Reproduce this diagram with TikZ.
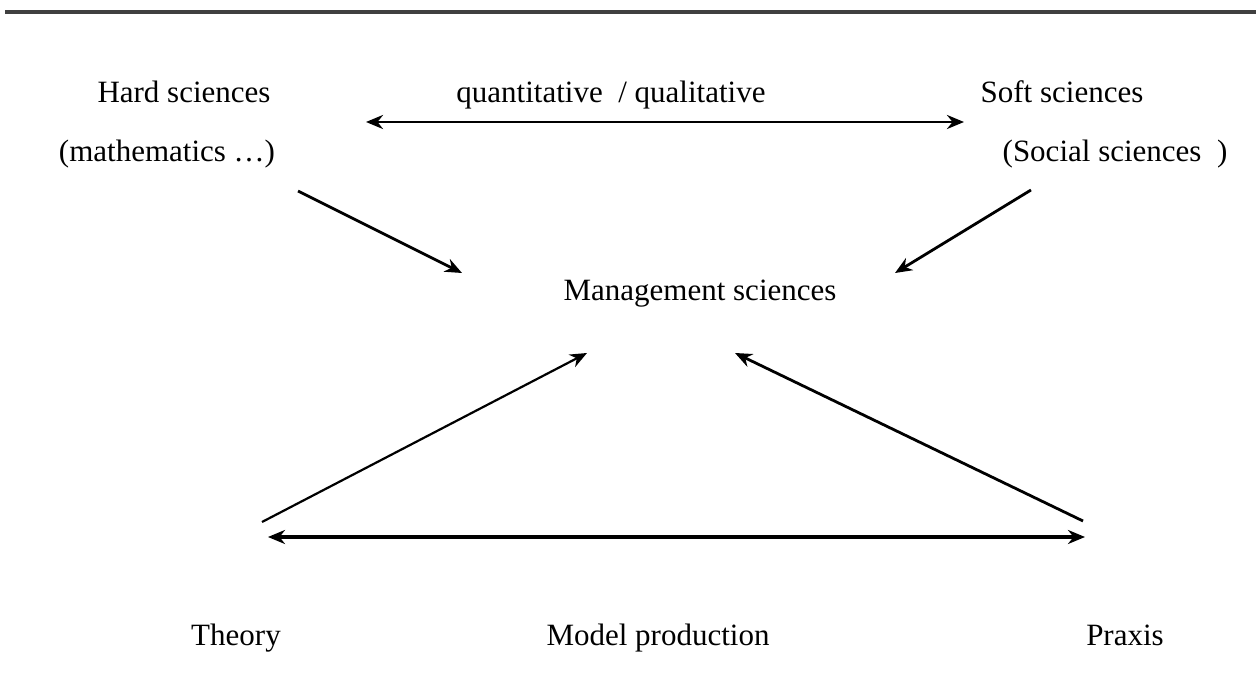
\documentclass[tikz,border=0pt]{standalone}
\usepackage{fontspec}
\setmainfont{Liberation Serif}
\usetikzlibrary{arrows.meta}
\tikzset{
  lbl/.style={inner sep=0pt, font=\fontsize{31}{36}\selectfont, anchor=base},
  arr/.style={line width=2.8pt, -{Stealth[length=17pt,width=14pt]}},
  darr/.style={line width=2.8pt, {Stealth[length=17pt,width=14pt]}-{Stealth[length=17pt,width=14pt]}},
}
\begin{document}
\begin{tikzpicture}[x=1pt,y=-1pt]
\useasboundingbox (0,0) rectangle (1256,700);
\draw[line width=3.5pt, black!75] (5,12) -- (1256,12);

\node[lbl] (hard) at (184,103) {Hard sciences};
\node[lbl] (math) at (167,162) {(mathematics …)};
\node[lbl] (qq) at (611,103) {quantitative \ / qualitative};
\node[lbl] (soft) at (1062,103) {Soft sciences};
\node[lbl] (social) at (1115,162) {(Social sciences \ )};
\node[lbl] (mgmt) at (700,301) {Management sciences};
\node[lbl] (theory) at (236,645) {Theory};
\node[lbl] (model) at (658,645) {Model production};
\node[lbl] (praxis) at (1125,645) {Praxis};

\coordinate (tl) at (366,122);
\coordinate (tr) at (964,122);
\coordinate (h1) at (298,191);
\coordinate (h2) at (462,273);
\coordinate (s1) at (1031,190);
\coordinate (s2) at (895,273);
\coordinate (t1) at (262,522);
\coordinate (t2) at (587,353);
\coordinate (p1) at (1083,521);
\coordinate (p2) at (735,353);
\coordinate (bl) at (268,537);
\coordinate (br) at (1085,537);

\draw[darr] (tl) -- (tr);
\draw[arr] (h1) -- (h2);
\draw[arr] (s1) -- (s2);
\draw[arr, line width=2.2pt] (t1) -- (t2);
\draw[arr] (p1) -- (p2);
\draw[darr, line width=4pt] (bl) -- (br);
\end{tikzpicture}
\end{document}
